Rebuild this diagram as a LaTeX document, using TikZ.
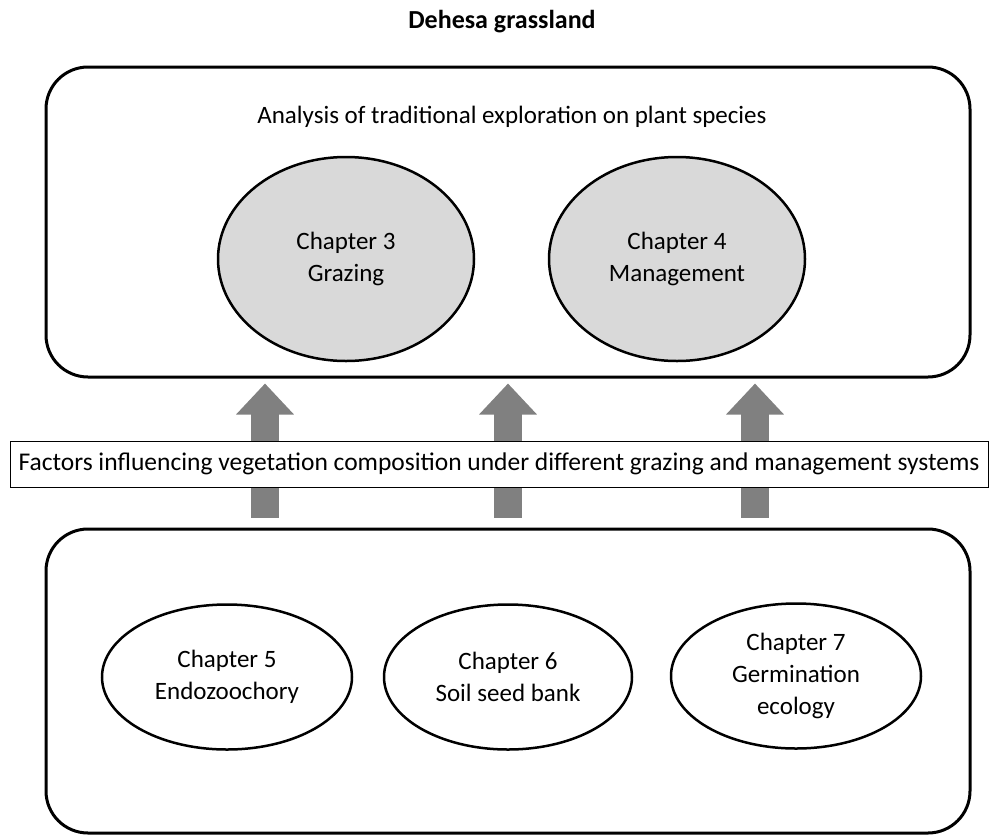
\documentclass[tikz,border=0pt]{standalone}
\usepackage{fontspec}
\setmainfont{Carlito}
\usetikzlibrary{calc,arrows.meta,shapes.geometric}

\definecolor{arrowgray}{HTML}{808080}
\definecolor{chapgray}{HTML}{D9D9D9}

\begin{document}
\begin{tikzpicture}[x=1pt,y=-1pt,
  every node/.style={font=\fontsize{25}{32}\selectfont,align=center},
  bigbox/.style={draw,rectangle,rounded corners=42pt,line width=3pt,minimum width=924pt},
  chapter/.style={draw,ellipse,line width=2.5pt,inner sep=0pt},
  blockarrow/.style={arrowgray,line width=28pt,-{Triangle[width=56pt,length=31pt]}}]
\useasboundingbox (0,0) rectangle (991,836);

\draw node [font=\fontsize{26}{32}\selectfont\bfseries] at (502,22){Dehesa grassland};

\draw node [bigbox,minimum height=310pt](analysis) at (508,222){};
\draw node at ($ (analysis.north)+(4,51) $){Analysis of traditional exploration on plant species};
\draw node [chapter,fill=chapgray,minimum width=256pt,minimum height=204pt](grazing) at (346,259){Chapter 3\\Grazing};
\draw node [chapter,fill=chapgray,minimum width=256pt,minimum height=204pt](management) at (677,259){Chapter 4\\Management};

\draw node [bigbox,minimum height=304pt](factors) at (508,681){};
\draw node [chapter,minimum width=250pt,minimum height=145pt](endo) at (227,677){Chapter 5\\Endozoochory};
\draw node [chapter,minimum width=248pt,minimum height=145pt](seedbank) at (508,677){Chapter 6\\Soil seed bank};
\draw node [chapter,minimum width=250pt,minimum height=145pt](germ) at (796,676){Chapter 7\\Germination\\ecology};

% arrows from the lower box up to the upper box
\foreach \x [count=\i] in {265,508,755}{
  \coordinate (col\i) at (\x,0);
  \draw[blockarrow] ([yshift=10pt]factors.north -| col\i) -- ([yshift=-5pt]analysis.south -| col\i);
}

\draw node [draw,rectangle,fill=white,line width=1pt,minimum width=978pt,minimum height=46pt,inner sep=0pt,font=\fontsize{25.5}{32}\selectfont](banner) at (499,464){Factors influencing vegetation composition under different grazing and management systems};

\end{tikzpicture}
\end{document}
